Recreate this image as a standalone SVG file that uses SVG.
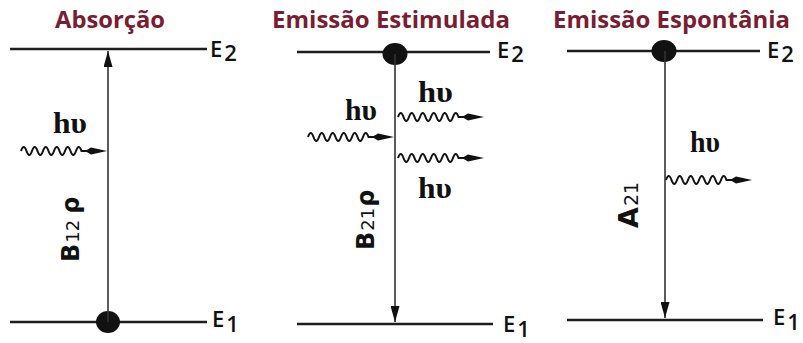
<svg xmlns="http://www.w3.org/2000/svg" width="803" height="343" viewBox="0 0 803 343">
<style>
.title{font-family:"Open Sans","Liberation Sans",sans-serif;font-weight:700;font-size:23px;fill:#7a1c32}
.lvl{stroke:#1e1e1e;stroke-width:2.6;fill:none}
.vert{stroke:#333;stroke-width:1.6;fill:none}
.dot{fill:#111}
.en{font-family:"Open Sans","Liberation Sans",sans-serif;font-weight:600;font-size:22px;fill:#111}
.hv{font-family:"Liberation Serif",serif;font-weight:700;font-size:29px;fill:#111}
.coef{font-family:"DejaVu Sans",sans-serif;font-weight:700;font-size:24px;fill:#111}
.sub{font-weight:400;font-size:18px}
.wave{stroke:#111;stroke-width:2;fill:none}
</style>
<defs>
<marker id="ah" markerWidth="16" markerHeight="9" refX="16" refY="4.5" viewBox="0 0 16 9" orient="auto" markerUnits="userSpaceOnUse">
<path d="M0,0 L16,4.5 L0,9 Z" fill="#111"/>
</marker>
<g id="photon">
<path class="wave" d="M0,0 q2.75,-8 5.5,0 t5.5,0 t5.5,0 t5.5,0 t5.5,0 t5.5,0 t5.5,0 t5.5,0 t5.5,0 t5.5,0 t5.5,0 L74,0"/>
<path d="M64,0 L70,-3.5 L86,0 L70,3.5 Z" fill="#111"/>
</g>
</defs>

<g id="absorcao">
<text class="title" x="55" y="28" textLength="110" lengthAdjust="spacingAndGlyphs">Absorção</text>
<line class="lvl" x1="10" y1="49" x2="207" y2="49"/>
<line class="lvl" x1="10" y1="322" x2="207" y2="322"/>
<text class="en" x="210" y="57">E<tspan dx="2" dy="4">2</tspan></text>
<text class="en" x="212" y="327">E<tspan dx="2" dy="5">1</tspan></text>
<ellipse class="dot" cx="108" cy="322" rx="12" ry="11"/>
<text class="hv" x="53" y="133" textLength="34" lengthAdjust="spacingAndGlyphs">hυ</text>
<use href="#photon" x="21" y="151"/>
<text class="coef" transform="translate(79,262) rotate(-90)">B<tspan class="sub" dx="1">12</tspan><tspan dx="6">ρ</tspan></text>
</g>

<g id="emissao-estimulada">
<text class="title" x="272" y="28" textLength="238" lengthAdjust="spacingAndGlyphs">Emissão Estimulada</text>
<line class="lvl" x1="297" y1="52" x2="490" y2="52"/>
<line class="lvl" x1="297" y1="324" x2="493" y2="324"/>
<text class="en" x="497" y="58">E<tspan dx="2" dy="4">2</tspan></text>
<text class="en" x="503" y="332">E<tspan dx="2" dy="5">1</tspan></text>
<ellipse class="dot" cx="395" cy="54" rx="12.5" ry="11"/>
<text class="hv" x="345" y="120" textLength="32" lengthAdjust="spacingAndGlyphs">hυ</text>
<text class="hv" x="418" y="102" textLength="35" lengthAdjust="spacingAndGlyphs">hυ</text>
<text class="hv" x="418" y="198" textLength="34" lengthAdjust="spacingAndGlyphs">hυ</text>
<use href="#photon" x="308" y="137"/>
<use href="#photon" x="398" y="117"/>
<use href="#photon" x="398" y="158"/>
<text class="coef" transform="translate(374,250) rotate(-90)">B<tspan class="sub" dx="1">21</tspan><tspan dx="1">ρ</tspan></text>
</g>

<g id="emissao-espontanea">
<text class="title" x="553" y="28" textLength="237" lengthAdjust="spacingAndGlyphs">Emissão Espontânia</text>
<line class="lvl" x1="567" y1="51" x2="760" y2="51"/>
<line class="lvl" x1="567" y1="320" x2="763" y2="320"/>
<text class="en" x="767" y="58">E<tspan dx="2" dy="4">2</tspan></text>
<text class="en" x="773" y="325">E<tspan dx="2" dy="5">1</tspan></text>
<ellipse class="dot" cx="664" cy="51" rx="12.5" ry="11"/>
<text class="hv" x="690" y="152" textLength="30" lengthAdjust="spacingAndGlyphs">hυ</text>
<use href="#photon" x="666" y="180"/>
<text class="coef" transform="translate(638,228) rotate(-90)" style="font-size:27px">A<tspan class="sub" dx="1" style="font-size:19px">21</tspan></text>
</g>

<g id="connectors">
<line class="vert" x1="108" y1="322" x2="108" y2="51" marker-end="url(#ah)"/>
<line class="vert" x1="395" y1="54" x2="395" y2="322" marker-end="url(#ah)"/>
<line class="vert" x1="665" y1="51" x2="665" y2="318" marker-end="url(#ah)"/>
</g>
</svg>
